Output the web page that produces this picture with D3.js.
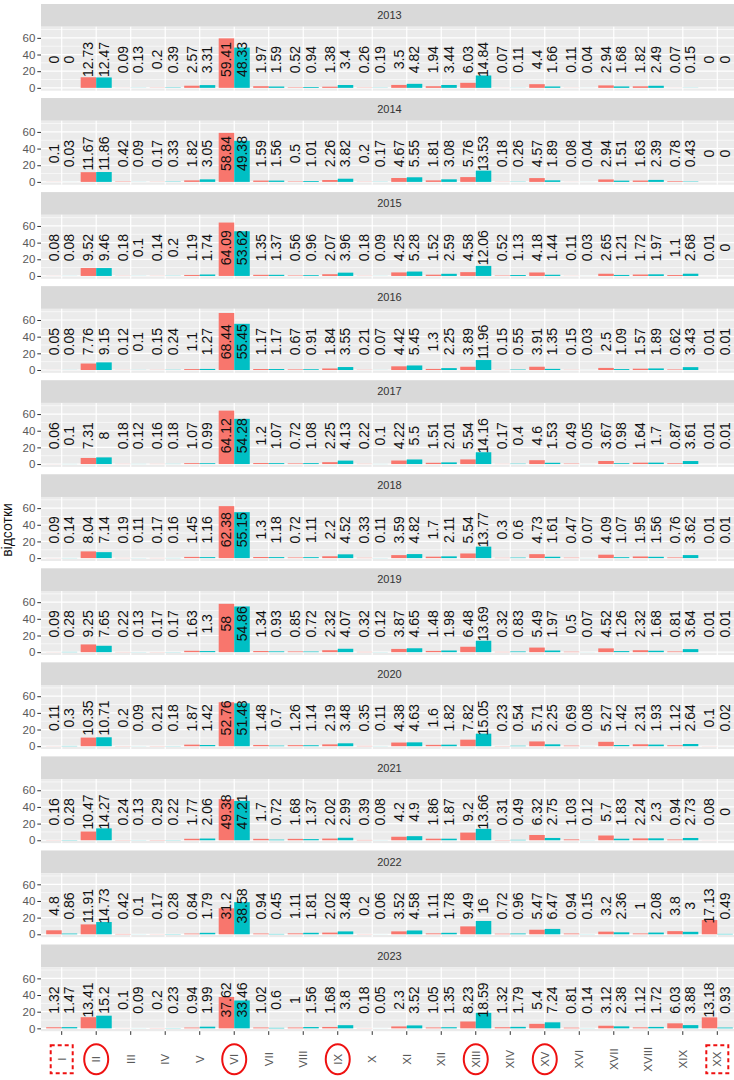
<!DOCTYPE html>
<html>
  <head>
    <meta charset="utf-8">
    <title>Відсотки по роках</title>
    <script src="https://d3js.org/d3.v7.min.js"></script>
    <style>
      body { margin: 0; background: #fff; }
      svg { font-family: "Liberation Sans", Arial, sans-serif; }
      .strip text { font-size: 11px; fill: #333; }
      .axis text { font-size: 11.5px; fill: #595959; }
      .axis line { stroke: #333; }
      .bar-label { font-size: 14px; fill: #111; }
      .y-title { font-size: 14px; fill: #111; }
    </style>
  </head>
  <body>
    <svg width="734" height="1080"></svg>
    <script>
      const years = [2013, 2014, 2015, 2016, 2017, 2018, 2019, 2020, 2021, 2022, 2023];
      const categories = ["I", "II", "III", "IV", "V", "VI", "VII", "VIII", "IX", "X",
                          "XI", "XII", "XIII", "XIV", "XV", "XVI", "XVII", "XVIII", "XIX", "XX"];
      const seriesColors = ["#F8766D", "#00BFC4"];

      // first (red) bar of each pair, one row per year
      const redValues = [
        [0, 12.73, 0.09, 0.2, 2.57, 59.41, 1.97, 0.52, 1.38, 0.26, 3.5, 1.94, 6.03, 0.07, 4.4, 0.11, 2.94, 1.82, 0.07, 0],
        [0.1, 11.67, 0.42, 0.17, 1.82, 58.84, 1.59, 0.5, 2.26, 0.2, 4.67, 1.81, 5.76, 0.18, 4.57, 0.08, 2.94, 1.63, 0.78, 0],
        [0.08, 9.52, 0.18, 0.14, 1.19, 64.09, 1.35, 0.56, 2.07, 0.18, 4.25, 1.52, 4.58, 0.52, 4.18, 0.11, 2.65, 1.72, 1.1, 0.01],
        [0.05, 7.76, 0.12, 0.15, 1.1, 68.44, 1.17, 0.67, 1.84, 0.21, 4.42, 1.3, 3.89, 0.15, 3.91, 0.15, 2.5, 1.57, 0.62, 0.01],
        [0.06, 7.31, 0.18, 0.16, 1.07, 64.12, 1.2, 0.72, 2.25, 0.22, 4.22, 1.51, 5.54, 0.17, 4.6, 0.49, 3.67, 1.64, 0.87, 0.01],
        [0.09, 8.04, 0.19, 0.17, 1.45, 62.38, 1.3, 0.72, 2.2, 0.33, 3.59, 1.7, 5.54, 0.3, 4.73, 0.47, 4.09, 1.95, 0.76, 0.01],
        [0.09, 9.25, 0.22, 0.17, 1.63, 58, 1.34, 0.85, 2.32, 0.32, 3.87, 1.48, 6.48, 0.32, 5.49, 0.5, 4.52, 2.32, 0.81, 0.01],
        [0.11, 10.35, 0.2, 0.21, 1.87, 52.76, 1.48, 1.26, 2.19, 0.35, 4.38, 1.6, 7.82, 0.23, 5.71, 0.69, 5.27, 2.31, 1.12, 0.1],
        [0.16, 10.47, 0.24, 0.29, 1.77, 49.38, 1.7, 1.68, 2.02, 0.39, 4.2, 1.86, 9.2, 0.31, 6.32, 1.03, 5.7, 2.24, 0.94, 0.08],
        [4.8, 11.91, 0.42, 0.17, 0.84, 31.2, 0.94, 1.11, 2.02, 0.2, 3.52, 1.11, 9.49, 0.72, 5.47, 0.94, 3.2, 1, 3.8, 17.13],
        [1.32, 13.41, 0.1, 0.2, 0.94, 37.62, 1.02, 1, 1.68, 0.18, 2.3, 1.05, 8.23, 1.32, 5.4, 0.81, 3.12, 1.12, 6.03, 13.18]
      ];

      // second (teal) bar of each pair, one row per year
      const tealValues = [
        [0, 12.47, 0.13, 0.39, 3.31, 48.33, 1.59, 0.94, 3.4, 0.19, 4.82, 3.44, 14.84, 0.11, 1.66, 0.04, 1.68, 2.49, 0.15, 0],
        [0.03, 11.86, 0.09, 0.33, 3.05, 49.38, 1.56, 1.01, 3.82, 0.17, 5.55, 3.08, 13.53, 0.26, 1.89, 0.04, 1.51, 2.39, 0.43, 0],
        [0.08, 9.46, 0.1, 0.2, 1.74, 53.62, 1.37, 0.96, 3.96, 0.09, 5.28, 2.59, 12.06, 1.13, 1.44, 0.03, 1.21, 1.97, 2.68, 0],
        [0.08, 9.15, 0.1, 0.24, 1.27, 55.45, 1.17, 0.91, 3.55, 0.07, 5.45, 2.25, 11.96, 0.55, 1.35, 0.03, 1.09, 1.89, 3.43, 0.01],
        [0.1, 8, 0.12, 0.18, 0.99, 54.28, 1.07, 1.08, 4.13, 0.1, 5.5, 2.01, 14.16, 0.4, 1.53, 0.05, 0.98, 1.7, 3.61, 0.01],
        [0.14, 7.14, 0.11, 0.16, 1.16, 55.15, 1.18, 1.11, 4.52, 0.11, 4.82, 2.11, 13.77, 0.6, 1.61, 0.07, 1.07, 1.56, 3.62, 0.01],
        [0.28, 7.65, 0.13, 0.17, 1.3, 54.86, 0.93, 0.72, 4.07, 0.12, 4.65, 1.98, 13.69, 0.83, 1.97, 0.07, 1.26, 1.68, 3.64, 0.01],
        [0.3, 10.71, 0.09, 0.18, 1.42, 51.48, 0.7, 1.14, 3.48, 0.11, 4.63, 1.82, 15.05, 0.54, 2.25, 0.08, 1.42, 1.93, 2.64, 0.02],
        [0.28, 14.27, 0.13, 0.22, 2.06, 47.21, 0.72, 1.37, 2.99, 0.08, 4.9, 1.87, 13.66, 0.49, 2.75, 0.12, 1.83, 2.3, 2.73, 0],
        [0.86, 14.73, 0.1, 0.28, 1.79, 38.58, 0.45, 1.81, 3.48, 0.06, 4.58, 1.78, 16, 0.96, 6.47, 0.15, 2.36, 2.08, 3, 0.49],
        [1.47, 15.2, 0.09, 0.23, 1.99, 33.46, 0.6, 1.56, 3.8, 0.05, 3.52, 1.35, 18.59, 1.79, 7.24, 0.14, 2.38, 1.72, 3.88, 0.93]
      ];

      const yTicks = [0, 20, 40, 60];
      const yMinor = [10, 30, 50, 70];
      const circled = ["II", "VI", "IX", "XIII", "XV"];
      const boxed = ["I", "XX"];

      function main() {
        const svg = d3.select("svg");

        const panelLeft = 41, panelRight = 738;
        const firstTop = 4, step = 94.05, stripH = 22.7, panelH = 64;
        const labelY = 34;

        const x = d3.scaleBand()
          .domain(categories)
          .range([panelLeft, panelRight])
          .paddingInner(0)
          .paddingOuter(0.1);
        const xSub = d3.scaleBand()
          .domain([0, 1])
          .range([x.bandwidth() * 0.05, x.bandwidth() * 0.95]);
        const y = d3.scaleLinear().domain([-3.42, 73.4]).range([panelH, 0]);

        years.forEach((year, i) => {
          const top = firstTop + i * step;
          const strip = svg.append("g").attr("class", "strip")
              .attr("transform", `translate(0, ${top})`);
          strip.append("rect")
              .attr("x", panelLeft).attr("width", panelRight - panelLeft)
              .attr("height", stripH).attr("fill", "#D9D9D9");
          strip.append("text")
              .attr("x", (panelLeft + panelRight) / 2)
              .attr("y", stripH / 2)
              .attr("dy", "0.35em")
              .attr("text-anchor", "middle")
              .text(year);

          const g = svg.append("g").attr("transform", `translate(0, ${top + stripH})`);
          g.append("rect")
              .attr("x", panelLeft).attr("width", panelRight - panelLeft)
              .attr("height", panelH).attr("fill", "#EBEBEB");

          g.selectAll(".minor").data(yMinor).join("line")
              .attr("x1", panelLeft).attr("x2", panelRight)
              .attr("y1", d => y(d)).attr("y2", d => y(d))
              .attr("stroke", "#fff").attr("stroke-width", 0.6);
          g.selectAll(".major").data(yTicks).join("line")
              .attr("x1", panelLeft).attr("x2", panelRight)
              .attr("y1", d => y(d)).attr("y2", d => y(d))
              .attr("stroke", "#fff").attr("stroke-width", 1.2);
          g.selectAll(".vgrid").data(categories).join("line")
              .attr("x1", d => x(d) + x.bandwidth() / 2)
              .attr("x2", d => x(d) + x.bandwidth() / 2)
              .attr("y1", 0).attr("y2", panelH)
              .attr("stroke", "#fff").attr("stroke-width", 1.2);

          const rows = [];
          categories.forEach((c, j) => {
            rows.push({cat: c, s: 0, v: redValues[i][j]});
            rows.push({cat: c, s: 1, v: tealValues[i][j]});
          });

          g.selectAll(".bar").data(rows).join("rect")
              .attr("x", d => x(d.cat) + xSub(d.s))
              .attr("width", xSub.bandwidth())
              .attr("y", d => y(d.v))
              .attr("height", d => y(0) - y(d.v))
              .attr("fill", d => seriesColors[d.s]);

          g.selectAll(".bar-label").data(rows).join("text")
              .attr("class", "bar-label")
              .attr("transform", d =>
                `translate(${x(d.cat) + xSub(d.s) + xSub.bandwidth() / 2}, ${y(labelY)}) rotate(-90)`)
              .attr("dy", "0.35em")
              .attr("text-anchor", "middle")
              .text(d => d.v);

          const yAxis = g.append("g").attr("class", "axis")
              .attr("transform", `translate(${panelLeft}, 0)`)
              .call(d3.axisLeft(y).tickValues(yTicks).tickSize(3.7).tickPadding(2));
          yAxis.select(".domain").remove();
          yAxis.selectAll("text").attr("fill", null);
          yAxis.selectAll("line").attr("stroke", null);

          if (i === years.length - 1) {
            const xAxis = g.append("g").attr("class", "axis")
                .attr("transform", `translate(0, ${panelH})`)
                .call(d3.axisBottom(x).tickSize(3.7));
            xAxis.select(".domain").remove();
            xAxis.selectAll("line").attr("stroke", null);
            xAxis.selectAll("text")
                .attr("fill", null)
                .attr("y", 0).attr("x", 0).attr("dy", "0.35em")
                .attr("text-anchor", "middle")
                .attr("transform", "translate(0, 28) rotate(-90)");

            const ann = g.append("g")
                .attr("transform", `translate(0, ${panelH + 28})`)
                .attr("fill", "none").attr("stroke", "#EE1111").attr("stroke-width", 2);
            ann.selectAll("ellipse").data(circled).join("ellipse")
                .attr("cx", d => x(d) + x.bandwidth() / 2)
                .attr("cy", 0).attr("rx", 12).attr("ry", 15);
            ann.selectAll("rect").data(boxed).join("rect")
                .attr("x", d => x(d) + x.bandwidth() / 2 - 11)
                .attr("y", -14).attr("width", 22).attr("height", 28)
                .attr("stroke-dasharray", "4,3");
          }
        });

        svg.append("text")
            .attr("class", "y-title")
            .attr("transform", `translate(12, 530) rotate(-90)`)
            .attr("text-anchor", "middle")
            .text("відсотки");
      }
      main();
    </script>
  </body>
</html>
